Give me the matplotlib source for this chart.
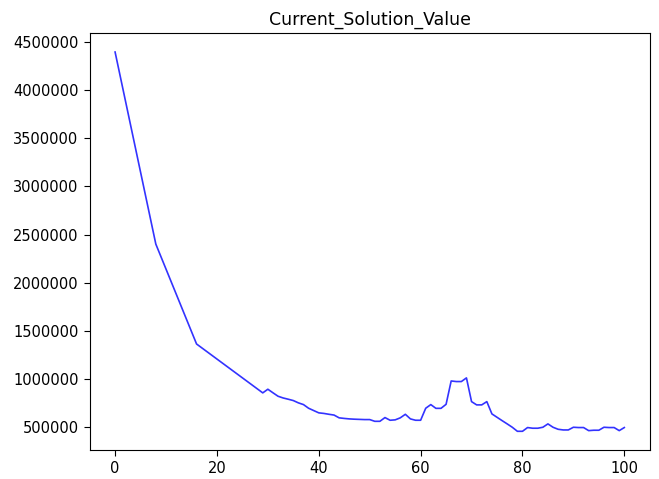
import matplotlib
matplotlib.use("Agg")
import matplotlib.pyplot as plt

# Iteracoes e valor da solucao corrente
iteracoes = [0, 8, 16] + list(range(29, 101))
valores = [4400000, 2400000, 1360000,
           851000, 889000, 852000, 816000, 798000, 785000, 771000, 747000, 729000, 691000,
           667000, 643000, 637000, 628000, 620000, 591000, 585000, 580000, 577000, 575000,
           573000, 573000, 555000, 555000, 594000, 566000, 570000, 591000, 628000, 580000,
           566000, 566000, 691000, 729000, 690000, 690000, 732000, 975000, 969000, 969000,
           1007000, 760000, 726000, 726000, 760000, 632000, 597000, 562000, 528000, 493000,
           451000, 451000, 490000, 483000, 483000, 493000, 528000, 493000, 472000, 465000,
           465000, 493000, 490000, 490000, 458000, 462000, 462000, 493000, 490000, 490000,
           458000, 490000]

fig = plt.figure(figsize=(6.59, 4.79), dpi=100)
ax = fig.add_axes([0.136, 0.06, 0.85, 0.871])

ax.plot(iteracoes, valores, color="blue", alpha=0.8, linewidth=1.2)
ax.set_title("Current_Solution_Value", fontsize=12.5)
ax.ticklabel_format(axis="y", style="plain", useOffset=False)
ax.set_xticks([0, 20, 40, 60, 80, 100])
ax.set_yticks(range(500000, 4500001, 500000))
ax.tick_params(labelsize=10.5, length=4.5)

fig.savefig("out.png", dpi=100)
